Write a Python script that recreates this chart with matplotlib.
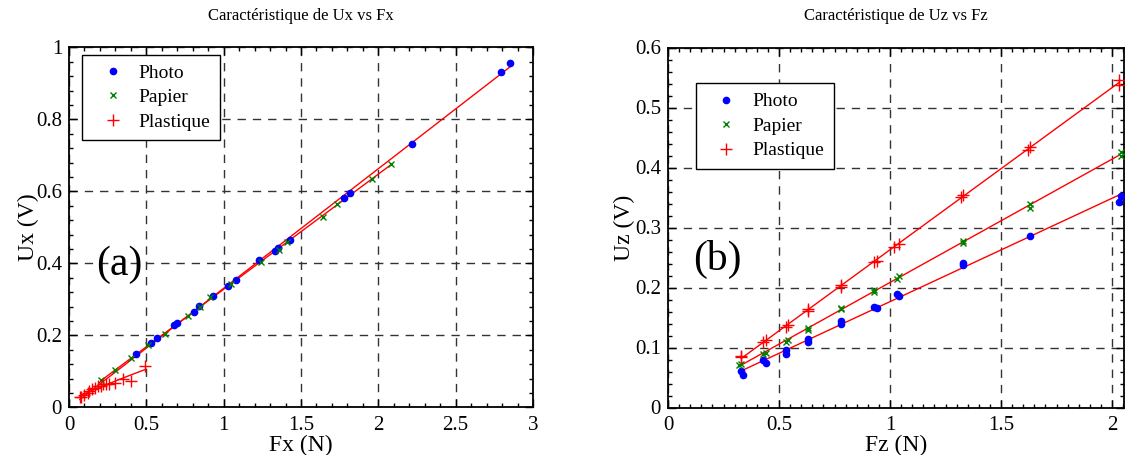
import numpy as np
import matplotlib
matplotlib.use("Agg")
import matplotlib.pyplot as plt
from matplotlib.ticker import MultipleLocator, FuncFormatter

plt.rcParams["font.family"] = ["Liberation Serif", "DejaVu Serif"]
plt.rcParams["mathtext.fontset"] = "stix"

# ---- Panel (a): Ux vs Fx ----
photo_fx = [0.43, 0.53, 0.57, 0.68, 0.70, 0.81, 0.84, 0.93, 1.03, 1.08,
            1.23, 1.33, 1.35, 1.43, 1.78, 1.82, 2.22, 2.79, 2.85]
photo_ux = [0.147, 0.178, 0.193, 0.228, 0.233, 0.266, 0.281, 0.308, 0.338, 0.354,
            0.409, 0.435, 0.442, 0.465, 0.581, 0.595, 0.732, 0.932, 0.957]

papier_fx = [0.21, 0.30, 0.40, 0.51, 0.62, 0.77, 0.85, 0.91, 1.05, 1.24,
             1.36, 1.41, 1.64, 1.73, 1.96, 2.08]
papier_ux = [0.077, 0.103, 0.136, 0.172, 0.205, 0.255, 0.278, 0.306, 0.342, 0.405,
             0.437, 0.458, 0.529, 0.564, 0.635, 0.677]

plast_fx = [0.07, 0.08, 0.10, 0.12, 0.13, 0.15, 0.17, 0.19, 0.21, 0.22,
            0.24, 0.26, 0.30, 0.35, 0.40, 0.49]
plast_ux = [0.028, 0.030, 0.035, 0.040, 0.045, 0.050, 0.055, 0.058, 0.060, 0.065,
            0.064, 0.066, 0.068, 0.080, 0.073, 0.115]

# ---- Panel (b): Uz vs Fz ----
photo_fz = [0.33, 0.34, 0.43, 0.44, 0.53, 0.53, 0.63, 0.63, 0.78, 0.78,
            0.93, 0.94, 1.03, 1.04, 1.33, 1.33, 1.63, 2.03, 2.04]
photo_uz = [0.061, 0.054, 0.079, 0.074, 0.096, 0.089, 0.115, 0.110, 0.145, 0.139,
            0.168, 0.166, 0.190, 0.186, 0.241, 0.238, 0.286, 0.343, 0.352]

papier_fz = [0.32, 0.33, 0.43, 0.44, 0.53, 0.54, 0.63, 0.63, 0.78, 0.78,
             0.93, 0.93, 1.03, 1.04, 1.33, 1.33, 1.63, 1.63, 2.04, 2.04]
papier_uz = [0.071, 0.073, 0.089, 0.091, 0.110, 0.112, 0.130, 0.133, 0.164, 0.166,
             0.193, 0.196, 0.214, 0.220, 0.274, 0.278, 0.333, 0.340, 0.419, 0.426]

plast_fz = [0.33, 0.33, 0.43, 0.44, 0.53, 0.54, 0.63, 0.63, 0.78, 0.78,
            0.93, 0.94, 1.02, 1.04, 1.32, 1.33, 1.62, 1.63, 2.03, 2.03]
plast_uz = [0.084, 0.086, 0.109, 0.112, 0.134, 0.137, 0.161, 0.164, 0.201, 0.204,
            0.242, 0.245, 0.268, 0.272, 0.351, 0.354, 0.430, 0.434, 0.537, 0.546]

labels = ["Photo", "Papier", "Plastique"]

fig = plt.figure(figsize=(11.25, 4.55), dpi=100)
ax1 = fig.add_axes([69 / 1125, 47.7 / 455, 464 / 1125, 360 / 455])
ax2 = fig.add_axes([668 / 1125, 47.5 / 455, 456 / 1125, 360 / 455])


def fit_line(ax, x, y, x0, x1, deg=1):
    coef = np.polyfit(x, y, deg)
    xs = np.linspace(x0, x1, 60)
    ax.plot(xs, np.polyval(coef, xs), color="red", lw=1.0, zorder=2)


def scatter_sets(ax, sets):
    h = []
    h += ax.plot(sets[0][0], sets[0][1], "o", color="blue", ms=4.5, mec="blue",
                 ls="none", zorder=3, label=labels[0])
    h += ax.plot(sets[1][0], sets[1][1], "x", color="green", ms=5, mew=1.0,
                 ls="none", zorder=3, label=labels[1])
    h += ax.plot(sets[2][0], sets[2][1], "+", color="red", ms=9, mew=1.0,
                 ls="none", zorder=3, label=labels[2])
    return h


fmt = FuncFormatter(lambda v, p: "%g" % round(v, 6))


def style(ax, xmaj, xmin, ymaj, ymin):
    ax.xaxis.set_major_locator(MultipleLocator(xmaj))
    ax.xaxis.set_minor_locator(MultipleLocator(xmin))
    ax.yaxis.set_major_locator(MultipleLocator(ymaj))
    ax.yaxis.set_minor_locator(MultipleLocator(ymin))
    ax.xaxis.set_major_formatter(fmt)
    ax.yaxis.set_major_formatter(fmt)
    ax.tick_params(which="both", direction="in", top=True, right=True,
                   labelsize=15, width=1.0, colors="black")
    ax.tick_params(axis="x", which="major", length=6, pad=6)
    ax.tick_params(axis="y", which="major", length=6, pad=5)
    ax.tick_params(which="minor", length=3)
    ax.grid(True, which="major", color="0.2", ls=(0, (6, 5)), lw=1.0)
    for s in ax.spines.values():
        s.set_linewidth(1.3)


def add_legend(ax, handles, x, y):
    leg = ax.legend(handles=handles, loc="upper left", bbox_to_anchor=(x, y),
                    borderaxespad=0, fontsize=14, frameon=True, fancybox=False,
                    edgecolor="black", framealpha=1, borderpad=0.5,
                    handletextpad=0.25, labelspacing=0.35, handlelength=2.15)
    leg.get_frame().set_linewidth(1.0)


# Panel (a)
fit_line(ax1, photo_fx, photo_ux, 0.07, 2.85)
fit_line(ax1, papier_fx, papier_ux, 0.21, 2.08)
fit_line(ax1, plast_fx, plast_ux, 0.07, 0.49, deg=2)
h1 = scatter_sets(ax1, [(photo_fx, photo_ux), (papier_fx, papier_ux),
                        (plast_fx, plast_ux)])
ax1.set_xlim(0, 3)
ax1.set_ylim(0, 1)
style(ax1, 0.5, 0.1, 0.2, 0.04)
ax1.set_title("Caractéristique de Ux vs Fx", fontsize=12, pad=20)
ax1.set_xlabel("Fx (N)", fontsize=17, labelpad=0)
ax1.set_ylabel("Ux (V)", fontsize=17, labelpad=-2)
ax1.text(0.058, 0.395, "(a)", transform=ax1.transAxes, fontsize=30,
         ha="left", va="center")
add_legend(ax1, h1, 0.028, 0.98)

# Panel (b)
fit_line(ax2, photo_fz, photo_uz, 0.33, 2.03)
fit_line(ax2, papier_fz, papier_uz, 0.32, 2.03)
fit_line(ax2, plast_fz, plast_uz, 0.33, 2.03)
h2 = scatter_sets(ax2, [(photo_fz, photo_uz), (papier_fz, papier_uz),
                        (plast_fz, plast_uz)])
ax2.set_xlim(0, 2.054)
ax2.set_ylim(0, 0.6)
style(ax2, 0.5, 0.05, 0.1, 0.02)
ax2.set_title("Caractéristique de Uz vs Fz", fontsize=12, pad=20)
ax2.set_xlabel("Fz (N)", fontsize=17, labelpad=0)
ax2.set_ylabel("Uz (V)", fontsize=17, labelpad=0)
ax2.text(0.055, 0.41, "(b)", transform=ax2.transAxes, fontsize=30,
         ha="left", va="center")
add_legend(ax2, h2, 0.061, 0.901)

fig.savefig("out.png", dpi=100)
